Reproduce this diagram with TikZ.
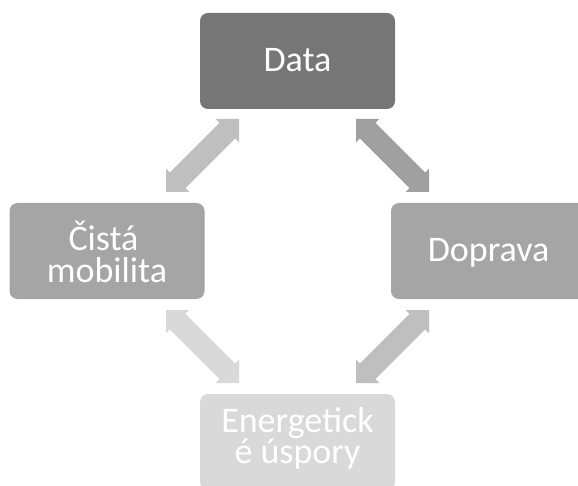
\documentclass[tikz,border=0pt]{standalone}
\usepackage{fontspec}
\setmainfont{Carlito}
\usetikzlibrary{calc}
\definecolor{cDark}{HTML}{767676}
\definecolor{cMid}{HTML}{A5A5A5}
\definecolor{cLight}{HTML}{D9D9D9}
\definecolor{aTL}{HTML}{BFBFBF}
\definecolor{aTR}{HTML}{A0A0A0}
\definecolor{aBR}{HTML}{BFBFBF}
\definecolor{aBL}{HTML}{D9D9D9}
\newcommand\dblarrow[3]{%
  \coordinate (ha) at ($(#1)!16.5pt!(#2)$);
  \coordinate (hb) at ($(#2)!16.5pt!(#1)$);
  \fill[#3] (#1) -- ($(ha)!16.5pt!90:(#2)$) -- ($(ha)!11pt!90:(#2)$)
    -- ($(hb)!11pt!-90:(#1)$) -- ($(hb)!16.5pt!-90:(#1)$) -- (#2)
    -- ($(hb)!16.5pt!90:(#1)$) -- ($(hb)!11pt!90:(#1)$)
    -- ($(ha)!11pt!-90:(#2)$) -- ($(ha)!16.5pt!-90:(#2)$) -- cycle;}
\begin{document}
\begin{tikzpicture}[x=1pt,y=-1pt,
  box/.style={rectangle, rounded corners=8pt, minimum width=195pt,
    minimum height=96pt, inner sep=0pt, text=white,
    font=\fontsize{36}{31.7}\selectfont},
  oneline/.style={text height=21.4pt, text depth=0pt},
  twoline/.style={align=center},
  txt/.style={inner sep=0pt, text=white, align=center,
    font=\fontsize{36}{31.7}\selectfont}]
\useasboundingbox (0,0) rectangle (578,486);
\node[box, oneline, fill=cDark] (data) at (297.5,61) {Data};
\node[box, fill=cMid,
  label={[txt, yshift=-1pt]center:{Čistá\kern7pt\\mobilita}}] (cista) at (107,251) {};
\node[box, oneline, fill=cMid] (doprava) at (488.5,251) {Doprava};
\node[box, fill=cLight,
  label={[txt, yshift=3.5pt]center:{Energetick\\é úspory}}] (energ) at (297.5,442) {};
\coordinate (tl1) at (166,192);
\coordinate (tl2) at (239,119);
\coordinate (tr1) at (356,119);
\coordinate (tr2) at (429,192);
\coordinate (br1) at (429,310);
\coordinate (br2) at (356,383);
\coordinate (bl1) at (166,310);
\coordinate (bl2) at (239,383);
\dblarrow{tl1}{tl2}{aTL}
\dblarrow{tr1}{tr2}{aTR}
\dblarrow{br1}{br2}{aBR}
\dblarrow{bl1}{bl2}{aBL}
\end{tikzpicture}
\end{document}
